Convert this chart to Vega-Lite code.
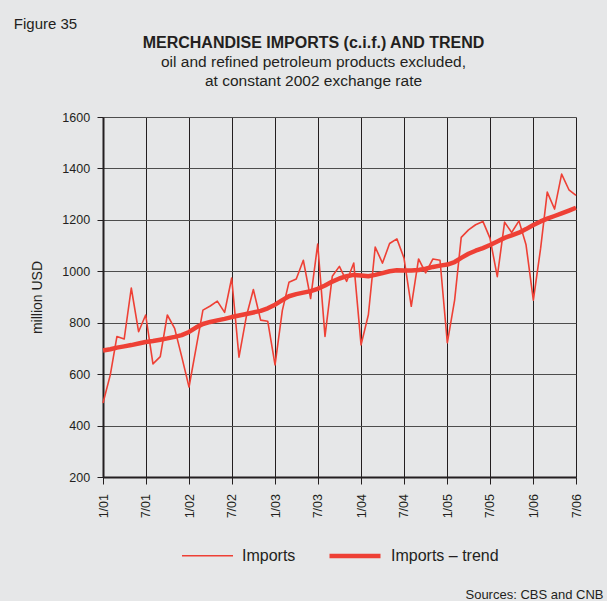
{
  "$schema": "https://vega.github.io/schema/vega-lite/v6.json",
  "background": "#E6E7E8",
  "padding": {"left": 13, "top": 17, "right": 12, "bottom": 4},
  "config": {
    "font": "Liberation Sans",
    "view": {"stroke": null},
    "concat": {"spacing": 0},
    "axis": {"labelColor": "#231F20", "titleColor": "#231F20", "tickColor": "#231F20", "domainColor": "#231F20"},
    "title": {"color": "#231F20", "fontWeight": "normal"},
    "legend": {"layout": {"bottom": {"anchor": "middle"}}}
  },
  "title": {"text": "Sources: CBS and CNB", "orient": "bottom", "anchor": "end", "frame": "bounds", "fontSize": 13, "dx": 21, "offset": 24},
  "vconcat": [
    {
      "title": {"text": "Figure 35", "anchor": "start", "frame": "bounds", "fontSize": 15, "dx": -17, "offset": 3},
      "vconcat": [
        {
          "title": {
            "text": "MERCHANDISE IMPORTS (c.i.f.) AND TREND",
            "subtitle": ["oil and refined petroleum products excluded,", "at constant 2002 exchange rate"],
            "anchor": "middle", "frame": "group", "dx": -26, "offset": 22,
            "fontSize": 16, "fontWeight": "bold",
            "subtitleFontSize": 15.5, "subtitleColor": "#231F20", "subtitleLineHeight": 19, "subtitlePadding": 3.5
          },
          "width": 473,
          "height": 360,
          "data": {
            "values": [
              {"date": "2001-01-01T00:00", "imports": 488, "trend": 692},
              {"date": "2001-02-01T00:00", "imports": 597, "trend": 697},
              {"date": "2001-03-01T00:00", "imports": 746, "trend": 703},
              {"date": "2001-04-01T00:00", "imports": 737, "trend": 708},
              {"date": "2001-05-01T00:00", "imports": 935, "trend": 713},
              {"date": "2001-06-01T00:00", "imports": 765, "trend": 719},
              {"date": "2001-07-01T00:00", "imports": 830, "trend": 725},
              {"date": "2001-08-01T00:00", "imports": 640, "trend": 729},
              {"date": "2001-09-01T00:00", "imports": 668, "trend": 734},
              {"date": "2001-10-01T00:00", "imports": 830, "trend": 739},
              {"date": "2001-11-01T00:00", "imports": 778, "trend": 745},
              {"date": "2001-12-01T00:00", "imports": 668, "trend": 752},
              {"date": "2002-01-01T00:00", "imports": 550, "trend": 764},
              {"date": "2002-02-01T00:00", "imports": 707, "trend": 782},
              {"date": "2002-03-01T00:00", "imports": 849, "trend": 795},
              {"date": "2002-04-01T00:00", "imports": 865, "trend": 803},
              {"date": "2002-05-01T00:00", "imports": 884, "trend": 809},
              {"date": "2002-06-01T00:00", "imports": 840, "trend": 815},
              {"date": "2002-07-01T00:00", "imports": 974, "trend": 822},
              {"date": "2002-08-01T00:00", "imports": 666, "trend": 828},
              {"date": "2002-09-01T00:00", "imports": 823, "trend": 834},
              {"date": "2002-10-01T00:00", "imports": 929, "trend": 840},
              {"date": "2002-11-01T00:00", "imports": 810, "trend": 846},
              {"date": "2002-12-01T00:00", "imports": 806, "trend": 856},
              {"date": "2003-01-01T00:00", "imports": 636, "trend": 870},
              {"date": "2003-02-01T00:00", "imports": 848, "trend": 888},
              {"date": "2003-03-01T00:00", "imports": 957, "trend": 903},
              {"date": "2003-04-01T00:00", "imports": 970, "trend": 911},
              {"date": "2003-05-01T00:00", "imports": 1043, "trend": 917},
              {"date": "2003-06-01T00:00", "imports": 894, "trend": 923},
              {"date": "2003-07-01T00:00", "imports": 1106, "trend": 932},
              {"date": "2003-08-01T00:00", "imports": 747, "trend": 945},
              {"date": "2003-09-01T00:00", "imports": 981, "trend": 960},
              {"date": "2003-10-01T00:00", "imports": 1019, "trend": 972},
              {"date": "2003-11-01T00:00", "imports": 961, "trend": 981},
              {"date": "2003-12-01T00:00", "imports": 1032, "trend": 986},
              {"date": "2004-01-01T00:00", "imports": 714, "trend": 984},
              {"date": "2004-02-01T00:00", "imports": 831, "trend": 981},
              {"date": "2004-03-01T00:00", "imports": 1094, "trend": 986},
              {"date": "2004-04-01T00:00", "imports": 1032, "trend": 993},
              {"date": "2004-05-01T00:00", "imports": 1108, "trend": 1000},
              {"date": "2004-06-01T00:00", "imports": 1126, "trend": 1004},
              {"date": "2004-07-01T00:00", "imports": 1052, "trend": 1003},
              {"date": "2004-08-01T00:00", "imports": 864, "trend": 1003},
              {"date": "2004-09-01T00:00", "imports": 1048, "trend": 1005},
              {"date": "2004-10-01T00:00", "imports": 994, "trend": 1010},
              {"date": "2004-11-01T00:00", "imports": 1048, "trend": 1017},
              {"date": "2004-12-01T00:00", "imports": 1043, "trend": 1022},
              {"date": "2005-01-01T00:00", "imports": 722, "trend": 1026},
              {"date": "2005-02-01T00:00", "imports": 888, "trend": 1036},
              {"date": "2005-03-01T00:00", "imports": 1132, "trend": 1052},
              {"date": "2005-04-01T00:00", "imports": 1161, "trend": 1068},
              {"date": "2005-05-01T00:00", "imports": 1181, "trend": 1080},
              {"date": "2005-06-01T00:00", "imports": 1194, "trend": 1090},
              {"date": "2005-07-01T00:00", "imports": 1129, "trend": 1102},
              {"date": "2005-08-01T00:00", "imports": 979, "trend": 1116},
              {"date": "2005-09-01T00:00", "imports": 1191, "trend": 1130},
              {"date": "2005-10-01T00:00", "imports": 1151, "trend": 1140},
              {"date": "2005-11-01T00:00", "imports": 1196, "trend": 1150},
              {"date": "2005-12-01T00:00", "imports": 1103, "trend": 1164},
              {"date": "2006-01-01T00:00", "imports": 888, "trend": 1180},
              {"date": "2006-02-01T00:00", "imports": 1090, "trend": 1194},
              {"date": "2006-03-01T00:00", "imports": 1308, "trend": 1205},
              {"date": "2006-04-01T00:00", "imports": 1242, "trend": 1215},
              {"date": "2006-05-01T00:00", "imports": 1378, "trend": 1225},
              {"date": "2006-06-01T00:00", "imports": 1317, "trend": 1236},
              {"date": "2006-07-01T00:00", "imports": 1295, "trend": 1247}
            ]
          },
          "transform": [{"fold": ["imports", "trend"], "as": ["key", "value"]}],
          "mark": {"type": "line", "strokeJoin": "round"},
          "encoding": {
            "x": {
              "field": "date", "type": "temporal", "title": null,
              "scale": {"domain": [{"year": 2001, "month": 1, "date": 1}, {"year": 2006, "month": 7, "date": 1}], "nice": false},
              "axis": {"format": "%-m/%y", "tickCount": {"interval": "month", "step": 6}, "labelAngle": -90, "labelFontSize": 12.5, "labelPadding": 9.5, "tickSize": 7, "domainWidth": 2, "grid": true, "gridColor": "#231F20", "gridWidth": 1, "gridOpacity": 1, "labelFlush": false, "labelOverlap": false}
            },
            "y": {
              "field": "value", "type": "quantitative", "title": "million USD",
              "scale": {"domain": [200, 1600], "nice": false, "zero": false},
              "axis": {"values": [200, 400, 600, 800, 1000, 1200, 1400, 1600], "format": "d", "labelFontSize": 12.5, "labelPadding": 7.4, "tickSize": 6, "domainWidth": 2, "grid": true, "gridColor": "#4D4D4D", "gridWidth": 1.2, "gridOpacity": 1, "titleFontSize": 14, "titleFontWeight": "normal", "titlePadding": 17}
            },
            "color": {
              "field": "key", "type": "nominal",
              "scale": {"range": ["#EE4035", "#EE4035"]},
              "legend": {"title": null, "orient": "bottom", "direction": "horizontal", "symbolType": "stroke", "symbolSize": 2601, "labelFontSize": 16, "labelOffset": 8, "columnPadding": 24, "offset": 10, "labelColor": "#231F20", "labelLimit": 300, "labelExpr": "datum.value == 'trend' ? 'Imports – trend' : 'Imports'"}
            },
            "strokeWidth": {
              "field": "key", "type": "nominal",
              "scale": {"type": "point", "range": [1.6, 4.5]},
              "legend": {"title": null, "orient": "bottom", "direction": "horizontal", "symbolType": "stroke", "symbolSize": 2601, "labelFontSize": 16, "labelOffset": 8, "columnPadding": 24, "offset": 10, "labelColor": "#231F20", "labelLimit": 300, "labelExpr": "datum.value == 'trend' ? 'Imports – trend' : 'Imports'"}
            }
          }
        }
      ]
    }
  ]
}
